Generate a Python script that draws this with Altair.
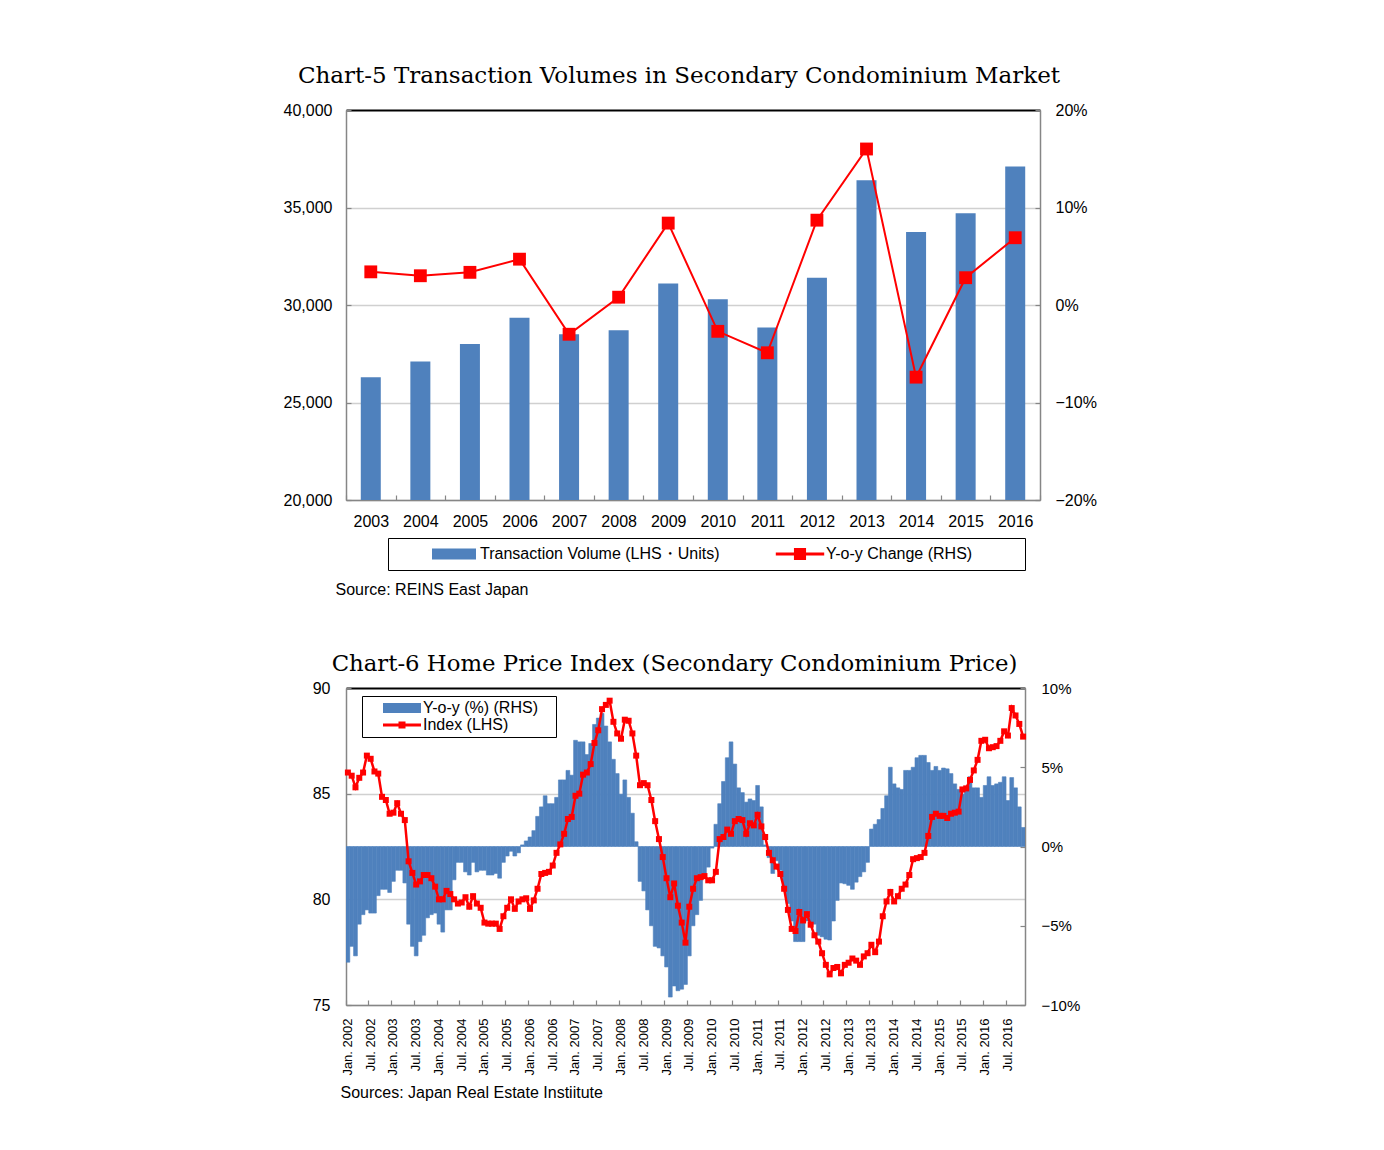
import altair as alt
import pandas as pd

# ---------------- Chart-5 data ----------------
years = ["2003", "2004", "2005", "2006", "2007", "2008", "2009",
         "2010", "2011", "2012", "2013", "2014", "2015", "2016"]
volume = [26300, 27100, 28000, 29350, 28500, 28700, 31100,
          30300, 28850, 31400, 36400, 33750, 34700, 37100]
volume_yoy = [3.4, 3.0, 3.35, 4.7, -3.0, 0.8, 8.4,
              -2.7, -4.9, 8.7, 16.0, -7.4, 2.8, 6.9]

# ---------------- Chart-6 data (monthly, Jan 2002 - Nov 2016) ----------------
months = [f"{2002 + i // 12}-{i % 12 + 1:02d}" for i in range(179)]
hpi_index = [
    86.0, 85.85, 85.3, 85.75, 86.0, 86.8, 86.65, 86.05, 85.95, 84.85,
    84.7, 84.05, 84.1, 84.55, 84.05, 83.75, 81.8, 81.25, 80.7, 80.85,
    81.15, 81.15, 81.0, 80.6, 80.0, 80.0, 80.4, 80.25, 80.0, 79.8,
    79.85, 80.1, 79.65, 80.15, 79.8, 79.6, 78.9, 78.85, 78.85, 78.85,
    78.6, 79.2, 79.6, 80.0, 79.55, 79.9, 80.0, 80.05, 79.55, 79.95,
    80.5, 81.2, 81.25, 81.3, 81.6, 82.2, 82.6, 83.1, 83.8, 83.9,
    84.9, 85.0, 85.9, 86.0, 86.4, 87.4, 88.0, 89.0, 89.2, 89.4,
    88.4, 87.85, 87.6, 88.5, 88.45, 87.85, 86.8, 85.4, 85.5, 85.4,
    84.7, 83.7, 82.85, 82.0, 81.0, 80.1, 80.75, 79.7, 78.9, 77.95,
    79.65, 80.5, 81.0, 81.05, 81.1, 80.9, 80.9, 81.3, 82.85, 82.95,
    83.3, 83.1, 83.7, 83.8, 83.75, 83.1, 83.6, 83.5, 84.0, 83.45,
    82.95, 82.2, 81.85, 81.55, 81.2, 80.5, 79.5, 78.6, 78.5, 79.4,
    79.0, 79.3, 78.8, 78.3, 78.0, 77.45, 76.9, 76.45, 76.75, 76.8,
    76.5, 76.9, 77.0, 77.2, 77.1, 76.9, 77.3, 77.45, 77.85, 77.5,
    78.0, 79.2, 79.9, 80.35, 79.9, 80.15, 80.5, 80.7, 81.15, 81.9,
    81.95, 82.0, 82.2, 83.0, 83.9, 84.05, 83.95, 83.95, 83.85, 84.05,
    84.1, 84.15, 85.2, 85.25, 85.65, 86.1, 86.6, 87.5, 87.55, 87.15,
    87.2, 87.25, 87.5, 87.95, 87.75, 89.05, 88.7, 88.3, 87.7,
]
hpi_yoy = [
    -7.3, -6.3, -6.9, -4.9, -4.3, -4.0, -4.2, -4.2, -3.1, -2.7,
    -2.7, -2.9, -2.2, -1.5, -1.5, -2.3, -4.9, -6.3, -6.9, -6.0,
    -5.6, -4.5, -4.3, -4.2, -4.9, -5.4, -4.0, -4.0, -2.1, -1.0,
    -1.0, -1.6, -1.8, -1.0, -1.6, -1.5, -1.5, -1.8, -1.8, -1.7,
    -2.0, -1.0, -0.6, -0.3, -0.6, -0.4, 0.1, 0.35, 0.6, 1.0,
    1.9, 2.5, 3.2, 2.7, 2.7, 3.1, 4.2, 4.2, 4.8, 4.5,
    6.7, 6.6, 6.6, 5.8, 6.5, 7.7, 8.1, 8.4, 7.6, 6.6,
    5.5, 4.6, 3.3, 4.2, 3.1, 2.1, 0.3, -2.2, -2.8, -4.0,
    -5.0, -6.3, -6.4, -6.9, -7.6, -9.5, -8.8, -9.1, -9.0, -8.7,
    -6.9, -5.0, -4.3, -3.4, -2.0, -1.3, -0.1, 1.4, 2.7, 4.1,
    5.6, 6.6, 5.2, 3.7, 3.4, 2.8, 3.0, 2.9, 3.85, 2.5,
    0.1, -0.7, -1.7, -0.9, -1.5, -2.7, -3.6, -4.7, -6.0, -6.0,
    -6.0, -4.7, -4.9, -4.9, -5.6, -5.7, -5.85, -5.9, -4.7, -3.4,
    -2.3, -2.35, -2.45, -2.7, -2.25, -1.9, -1.6, -1.0, 1.1, 1.4,
    1.7, 2.4, 3.2, 5.0, 3.95, 3.7, 3.6, 4.8, 4.8, 5.0,
    5.6, 5.75, 5.75, 5.3, 4.8, 5.05, 4.8, 4.95, 4.9, 4.6,
    3.95, 3.6, 3.3, 3.5, 4.4, 3.7, 3.7, 3.1, 3.85, 4.4,
    3.85, 3.95, 4.05, 4.4, 2.9, 4.35, 3.7, 2.5, 1.2,
]
label_months = months[::6]

# ---------------- styles ----------------
BLUE = "#4F81BD"
RED = "#FF0000"
GREY = "#868686"
GRID = "#D0D0D0"
FONT = "Liberation Sans"
TITLE_FONT = "DejaVu Serif"
IN_TICK = alt.ExprRef("-5")
PAD5 = "\u00a0" * 10 + "\u200b"
PAD6 = "\u00a0" * 3 + "\u200b"

# ================= Chart-5 =================
S5_BAR = "Transaction Volume (LHS・Units)"
S5_LINE = "Y-o-y Change (RHS)"
df5 = pd.DataFrame({"year": years, "volume": volume, "change": volume_yoy})
df5["bar_series"] = S5_BAR
df5["line_series"] = S5_LINE
color5 = alt.Scale(domain=[S5_BAR, S5_LINE], range=[BLUE, RED])

RECT5 = "M-4,-1H4V1H-4Z"
LINE5 = "M-4.4,-0.27H-1.1V-1.1H1.1V-0.27H4.4V0.27H1.1V1.1H-1.1V0.27H-4.4Z"
legend5 = alt.Legend(
    title=None, orient="none", legendX=42, legendY=428,
    direction="horizontal", columns=2, symbolSize=121,
    symbolType=alt.ExprRef(f"datum.value === '{S5_BAR}' ? '{RECT5}' : '{LINE5}'"),
    symbolOffset=50, labelOffset=18, columnPadding=22, padding=8,
    strokeColor="black", fillColor="white", symbolStrokeWidth=0,
    labelFont=FONT, labelFontSize=16, labelColor="black", labelLimit=500,
    labelExpr=f"datum.value === '{S5_LINE}' ? datum.label + '{PAD5}' : datum.label",
)

x5 = alt.X(
    "year:N", title="Source: REINS East Japan",
    scale=alt.Scale(paddingInner=0, paddingOuter=0),
    axis=alt.Axis(
        labelAngle=0, labelFontSize=16, labelPadding=18, tickBand="extent",
        tickSize=IN_TICK, titleX=-11, titleY=81, titleAlign="left",
        titleBaseline="top", titleFontSize=16, titleFontWeight="normal",
    ),
)

bars5 = alt.Chart(df5).mark_bar(size=20, clip=True).encode(
    x=x5,
    y=alt.Y(
        "volume:Q", title=None,
        scale=alt.Scale(domain=[20000, 40000], zero=False, nice=False),
        axis=alt.Axis(
            orient="left", values=[20000, 25000, 30000, 35000, 40000],
            format=",d", labelFontSize=16, labelPadding=19, tickSize=IN_TICK,
            grid=True,
            gridColor={"condition": {"test": "datum.value === 40000", "value": "black"}, "value": GRID},
            gridWidth={"condition": {"test": "datum.value === 40000", "value": 2}, "value": 1.3},
        ),
    ),
    color=alt.Color("bar_series:N", scale=color5, legend=legend5),
)

line5 = alt.Chart(df5).mark_line(
    strokeWidth=2,
    point=alt.OverlayMarkDef(shape="square", size=165, filled=True, opacity=1),
).encode(
    x=x5,
    y=alt.Y(
        "change:Q", title=None,
        scale=alt.Scale(domain=[-20, 20], nice=False),
        axis=alt.Axis(
            orient="right", values=[-20, -10, 0, 10, 20], format="d",
            labelExpr="datum.label + '%'", labelFontSize=16, labelPadding=20,
            tickSize=IN_TICK, grid=False,
        ),
    ),
    color=alt.Color("line_series:N", scale=color5, legend=None),
)

chart5 = alt.layer(bars5, line5).resolve_scale(y="independent").properties(
    width=694, height=390,
    title=alt.TitleParams(
        "Chart-5 Transaction Volumes in Secondary Condominium Market",
        font=TITLE_FONT, fontSize=23, fontWeight="normal", color="black",
        offset=14, dx=-14, anchor="middle",
    ),
)

# ================= Chart-6 =================
S6_BAR = "Y-o-y (%) (RHS)"
S6_LINE = "Index (LHS)"
df6 = pd.DataFrame({"month": months, "index": hpi_index, "yoy": hpi_yoy})
df6["bar_series"] = S6_BAR
df6["line_series"] = S6_LINE
color6 = alt.Scale(domain=[S6_BAR, S6_LINE], range=[BLUE, RED])

RECT6 = "M-3.8,-1H3.8V1H-3.8Z"
LINE6 = "M-3.8,-0.3H-0.7V-0.7H0.7V-0.3H3.8V0.3H0.7V0.7H-0.7V0.3H-3.8Z"
legend6 = alt.Legend(
    title=None, orient="none", legendX=16, legendY=8, direction="vertical",
    symbolSize=100,
    symbolType=alt.ExprRef(f"datum.value === '{S6_BAR}' ? '{RECT6}' : '{LINE6}'"),
    symbolOffset=28, labelOffset=13, rowPadding=1, padding=4,
    strokeColor="black", fillColor="white", symbolStrokeWidth=0,
    labelFont=FONT, labelFontSize=16, labelColor="black", labelLimit=400,
    labelExpr=f"datum.label + '{PAD6}'",
)

x6 = alt.X(
    "month:O", title="Sources:  Japan Real Estate Instiitute",
    scale=alt.Scale(paddingInner=0, paddingOuter=0),
    axis=alt.Axis(
        values=label_months,
        labelExpr="(substring(datum.value, 5, 7) == '01' ? 'Jan. ' : 'Jul. ') + substring(datum.value, 0, 4)",
        labelAngle=270, labelFontSize=13, labelPadding=18, bandPosition=0,
        tickSize=IN_TICK, titleX=-6, titleY=79, titleAlign="left",
        titleBaseline="top", titleFontSize=16, titleFontWeight="normal",
    ),
)

bars6 = alt.Chart(df6).mark_bar(strokeWidth=0.6, clip=True).encode(
    x=x6,
    y=alt.Y(
        "yoy:Q", title=None,
        scale=alt.Scale(domain=[-10, 10], nice=False),
        axis=alt.Axis(
            orient="right", values=[-10, -5, 0, 5, 10], format="d",
            labelExpr="datum.label + '%'", labelFontSize=15, labelPadding=21,
            tickSize=IN_TICK, grid=False,
        ),
    ),
    color=alt.Color("bar_series:N", scale=color6, legend=legend6),
    stroke=alt.value(BLUE),
)

line6 = alt.Chart(df6).mark_line(
    strokeWidth=2.5,
    point=alt.OverlayMarkDef(shape="square", size=36, filled=True, opacity=1),
).encode(
    x=x6,
    y=alt.Y(
        "index:Q", title=None,
        scale=alt.Scale(domain=[75, 90], zero=False, nice=False),
        axis=alt.Axis(
            orient="left", values=[75, 80, 85, 90], format="d",
            labelFontSize=16, labelPadding=21, tickSize=IN_TICK, grid=True,
            gridColor={"condition": {"test": "datum.value === 90", "value": "black"}, "value": GRID},
            gridWidth={"condition": {"test": "datum.value === 90", "value": 2}, "value": 1.3},
        ),
    ),
    color=alt.Color("line_series:N", scale=color6, legend=None),
)

chart6 = alt.layer(bars6, line6).resolve_scale(y="independent").properties(
    width=679, height=317,
    title=alt.TitleParams(
        "Chart-6 Home Price Index (Secondary Condominium Price)",
        font=TITLE_FONT, fontSize=22.8, fontWeight="normal", color="black",
        offset=4, dx=-11, anchor="middle",
    ),
)

chart = (
    alt.vconcat(chart5, chart6, spacing=56)
    .resolve_scale(color="independent")
    .resolve_legend(color="independent")
    .properties(padding={"left": 275, "top": 57, "right": 20, "bottom": 20})
    .configure_view(stroke=None)
    .configure_axis(
        labelFont=FONT, titleFont=FONT, labelColor="black", titleColor="black",
        domainColor=GREY, domainWidth=1.5, tickColor=GREY, tickWidth=1.2,
    )
)

chart.save("out.html", embed_options={"renderer": "svg", "actions": False})
